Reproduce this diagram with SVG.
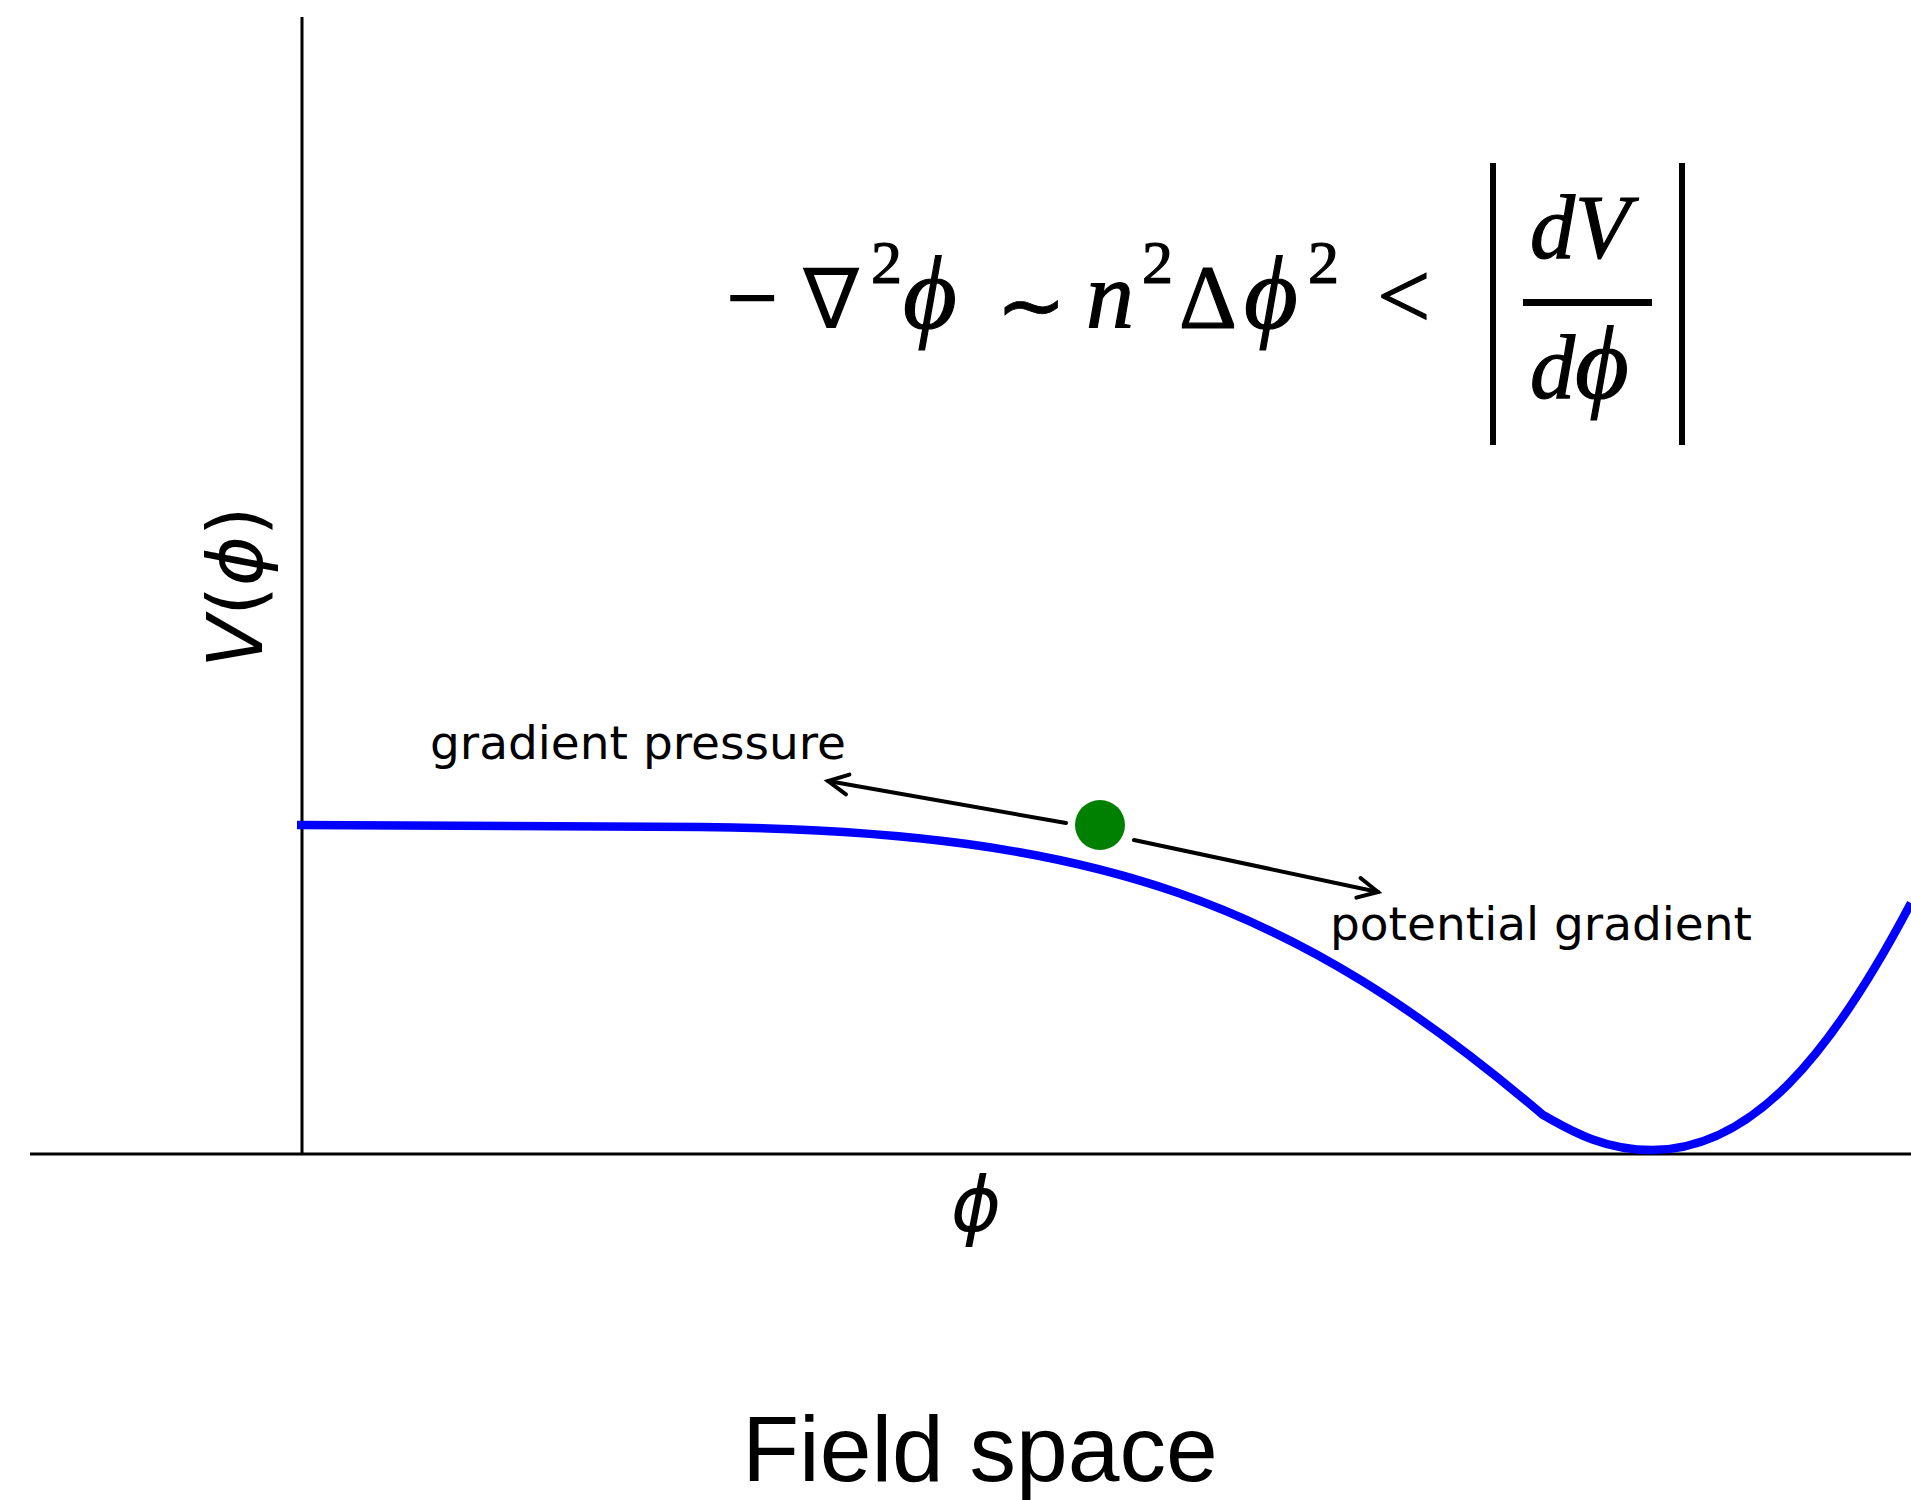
<svg xmlns="http://www.w3.org/2000/svg" width="1911" height="1500" viewBox="0 0 1911 1500">
  <style>
    .axis { stroke: #000; stroke-width: 3; fill: none; }
    .curve { stroke: #0000ff; stroke-width: 8.5; fill: none; stroke-linejoin: round; }
    .arrow { stroke: #000; stroke-width: 4; fill: none; stroke-linecap: round; }
    .lbl { font-family: "DejaVu Sans", sans-serif; font-size: 47px; fill: #000; }
    .math { font-family: "Liberation Serif", "DejaVu Serif", serif; fill: #000; font-size: 90px; stroke: #000; stroke-width: 1.2; }
    .it { font-style: italic; }
    .sup { font-size: 62px; }
    .phi { font-size: 104px; }
    .bar { fill: #000; }
  </style>
  <defs>
    <marker id="chev" markerUnits="userSpaceOnUse" markerWidth="40" markerHeight="40" viewBox="-30 -20 40 40" refX="0" refY="0" orient="auto">
      <path d="M-20,-10 L0,0 L-20,10" stroke="#000" stroke-width="4" fill="none" stroke-linecap="round" stroke-linejoin="miter"/>
    </marker>
  </defs>

  <g id="axes">
    <line class="axis" x1="302" y1="17" x2="302" y2="1154"/>
    <line class="axis" x1="30" y1="1154" x2="1911" y2="1154"/>
  </g>

  <g id="potential-curve">
    <path class="curve" d="M297,825 L700,827 C1100,831 1293,902.5 1543,1115 C1565,1127 1600,1150 1652,1150 C1752,1150 1831,1055 1911,903"/>
  </g>

  <g id="ball">
    <circle cx="1100" cy="825" r="25" fill="#008000"/>
  </g>

  <g id="connectors">
    <line class="arrow" x1="1066" y1="823" x2="828" y2="781" marker-end="url(#chev)"/>
    <line class="arrow" x1="1134" y1="840" x2="1378" y2="892" marker-end="url(#chev)"/>
  </g>

  <g id="label-gradient-pressure">
    <text class="lbl" x="430" y="759">gradient pressure</text>
  </g>
  <g id="label-potential-gradient">
    <text class="lbl" x="1330" y="940">potential gradient</text>
  </g>

  <g id="formula">
    <text class="math" x="727" y="328" style="stroke-width:2">−</text>
    <text class="math" x="803" y="328" style="font-family:'DejaVu Sans',sans-serif;font-size:84px;stroke-width:0">∇</text>
    <text class="math sup" x="871" y="283">2</text>
    <text class="math it phi" x="903" y="328">ϕ</text>
    <text class="math" x="996" y="334" style="font-family:'DejaVu Sans',sans-serif;font-size:84px;stroke-width:0.8">∼</text>
    <text class="math it" x="1086" y="328" style="font-size:96px">n</text>
    <text class="math sup" x="1142" y="283">2</text>
    <text class="math" x="1179" y="328">Δ</text>
    <text class="math it phi" x="1244" y="328">ϕ</text>
    <text class="math sup" x="1308" y="283">2</text>
    <text class="math" x="1377" y="328" style="font-size:95px">&lt;</text>
    <rect class="bar" x="1490" y="163" width="6" height="282"/>
    <text class="math it" x="1530" y="258">dV</text>
    <rect class="bar" x="1523" y="299" width="129" height="7"/>
    <text class="math it" x="1530" y="398">d<tspan class="phi">ϕ</tspan></text>
    <rect class="bar" x="1679" y="163" width="6" height="282"/>
  </g>

  <g id="y-label">
    <text transform="translate(262,587) rotate(-90)" text-anchor="middle" font-family="DejaVu Sans, sans-serif" font-size="76"><tspan font-style="italic">V</tspan>(<tspan font-style="italic">ϕ</tspan>)</text>
  </g>

  <g id="x-label">
    <text x="976" y="1231" text-anchor="middle" font-family="DejaVu Sans, sans-serif" font-size="76" font-style="italic">ϕ</text>
  </g>

  <g id="title">
    <text x="980" y="1481" text-anchor="middle" font-family="Liberation Sans, Arial, sans-serif" font-size="93">Field space</text>
  </g>
</svg>
